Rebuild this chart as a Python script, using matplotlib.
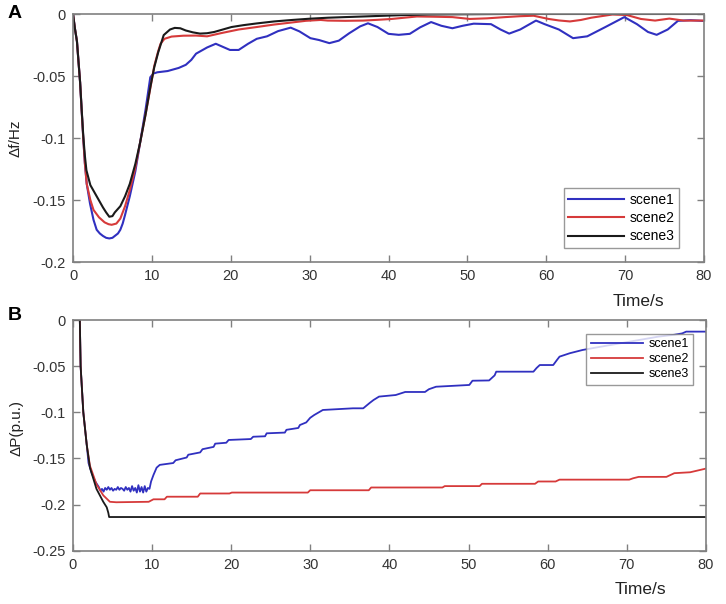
import matplotlib
matplotlib.use("Agg")
import matplotlib.pyplot as plt

plt.rcParams['font.family'] = ['Liberation Sans', 'DejaVu Sans']

# ---------------- Panel A : frequency deviation ----------------
tA1 = [0, 0.25, 0.5, 0.68, 0.9, 1.1, 1.3, 1.5, 1.74, 2.16, 2.6, 3.0, 3.4, 3.8, 4.2, 4.6, 5.0, 5.3,
       5.7, 6.0, 6.3, 6.6, 7.2, 7.9, 8.5, 9.2, 9.8, 10.2, 10.7, 12.0, 13.4, 14.3, 15.0, 15.6, 17.0,
       18.1, 19.0, 19.9, 21.0, 22.2, 23.3, 24.6, 26.0, 27.6, 28.7, 30.1, 31.2, 32.5, 33.7, 35.0,
       36.4, 37.4, 38.6, 40.0, 41.3, 42.7, 44.0, 45.4, 46.7, 48.1, 49.4, 50.8, 53.0, 54.2, 55.3,
       56.7, 58.7, 59.8, 61.6, 63.4, 65.2, 67.5, 69.9, 71.5, 72.9, 74.0, 75.4, 76.7, 78.3, 80]
fA1 = [0, -0.012, -0.022, -0.037, -0.055, -0.078, -0.1, -0.12, -0.137, -0.153, -0.166, -0.174,
       -0.177, -0.179, -0.1805, -0.181, -0.1805, -0.179, -0.177, -0.174, -0.169, -0.162, -0.147,
       -0.127, -0.104, -0.077, -0.051, -0.048, -0.047, -0.046, -0.0435, -0.041, -0.037, -0.032,
       -0.027, -0.024, -0.0265, -0.029, -0.029, -0.024, -0.020, -0.018, -0.0138, -0.011, -0.014,
       -0.0195, -0.021, -0.0235, -0.0215, -0.0156, -0.010, -0.0075, -0.0105, -0.016, -0.0168,
       -0.016, -0.0108, -0.0065, -0.0095, -0.0115, -0.0095, -0.0078, -0.0082, -0.0125, -0.0158,
       -0.0125, -0.0053, -0.0082, -0.0125, -0.0195, -0.018, -0.0105, -0.0025, -0.0082, -0.0145,
       -0.0168, -0.0125, -0.0055, -0.005, -0.0056]

tA2 = [0, 0.25, 0.5, 0.68, 0.9, 1.1, 1.3, 1.5, 1.74, 2.2, 2.6, 3.3, 4.0, 4.5, 4.9, 5.5, 6.0, 6.6,
       7.2, 7.9, 8.5, 9.2, 9.8, 10.3, 10.8, 11.1, 11.6, 12.5, 14.0, 15.6, 17.0, 18.8, 21.0, 23.3,
       25.5, 27.8, 29.5, 31.4, 32.3, 34.5, 36.8, 38.6, 40.4, 42.0, 43.6, 45.8, 48.1, 50.3, 52.5,
       54.8, 56.6, 58.4, 60.3, 61.6, 63.0, 64.4, 65.7, 68.4, 70.2, 72.0, 73.8, 75.6, 77.4, 80]
fA2 = [0, -0.012, -0.022, -0.037, -0.055, -0.078, -0.1, -0.12, -0.137, -0.150, -0.158, -0.164,
       -0.168, -0.1695, -0.170, -0.169, -0.165, -0.155, -0.142, -0.124, -0.104, -0.081, -0.06,
       -0.042, -0.030, -0.024, -0.020, -0.0182, -0.0175, -0.0174, -0.018, -0.0154, -0.0125,
       -0.0105, -0.0085, -0.0068, -0.0055, -0.0048, -0.0053, -0.0055, -0.0053, -0.0047, -0.004,
       -0.003, -0.002, -0.0022, -0.0025, -0.004, -0.0035, -0.0025, -0.0018, -0.0014, -0.004,
       -0.0052, -0.006, -0.0048, -0.003, -0.0004, -0.0008, -0.004, -0.0053, -0.0037, -0.0053,
       -0.0053]

tA3 = [0, 0.25, 0.5, 0.68, 0.9, 1.1, 1.3, 1.5, 1.7, 2.2, 3.0, 3.8, 4.2, 4.6, 5.0, 5.3, 6.0, 6.6,
       7.2, 7.9, 8.5, 9.2, 9.8, 10.3, 10.8, 11.5, 12.3, 12.9, 13.6, 14.3, 15.2, 16.1, 17.0, 17.9,
       19.0, 20.1, 21.6, 23.3, 25.5, 27.8, 30.0, 32.3, 34.5, 36.8, 41.3, 45.0, 50, 55, 60, 70, 80]
fA3 = [0, -0.012, -0.022, -0.037, -0.055, -0.077, -0.098, -0.114, -0.126, -0.138, -0.147, -0.156,
       -0.16, -0.1635, -0.163, -0.160, -0.155, -0.147, -0.137, -0.121, -0.104, -0.081, -0.059,
       -0.043, -0.031, -0.017, -0.0125, -0.0112, -0.0115, -0.0133, -0.0148, -0.0158, -0.0155,
       -0.0145, -0.0125, -0.0105, -0.009, -0.0076, -0.006, -0.0048, -0.0038, -0.003, -0.0025,
       -0.002, -0.001, -0.0004, -0.0002, 0, 0, 0, 0]

# ---------------- Panel B : power deviation ----------------
tB1 = [0, 0.9, 1.0, 1.34, 1.77, 2.0, 2.4, 2.85, 3.3,
       3.5, 3.7, 3.9, 4.1, 4.3, 4.5, 4.7, 4.9, 5.1, 5.3, 5.5, 5.7, 5.9, 6.1, 6.3, 6.5, 6.7, 6.9,
       7.1, 7.3, 7.5, 7.7, 7.9, 8.1, 8.3, 8.5, 8.7, 8.9, 9.1, 9.3, 9.5, 9.7,
       9.9, 10.2, 10.6, 11, 12.7, 13, 14.4, 14.6, 16.1, 16.4, 17.8, 18, 19.4, 19.7, 22.5, 22.8,
       24.3, 24.5, 26.8, 27, 28.5, 28.7, 29.5, 30, 30.5, 31.6, 35.4, 36.7, 37.5, 38, 38.7, 40.8,
       42, 44.5, 45, 45.9, 50.1, 50.5, 52.6, 53.3, 53.5, 58.2, 58.6, 59, 60.7, 61.2, 61.5, 62.8,
       64.4, 66, 68, 70, 72, 74, 76, 77, 77.5, 80]
pB1 = [0, 0, -0.05, -0.1, -0.135, -0.155, -0.166, -0.175, -0.181,
       -0.185, -0.183, -0.186, -0.182, -0.184, -0.181, -0.184, -0.182, -0.185, -0.183, -0.184,
       -0.181, -0.184, -0.182, -0.183, -0.185, -0.181, -0.184, -0.182, -0.186, -0.180, -0.185,
       -0.182, -0.187, -0.179, -0.186, -0.181, -0.187, -0.180, -0.186, -0.182, -0.183,
       -0.175, -0.168, -0.160, -0.157, -0.155, -0.152, -0.149, -0.146, -0.1435, -0.140, -0.1375,
       -0.134, -0.133, -0.130, -0.129, -0.1265, -0.126, -0.1228, -0.122, -0.119, -0.117, -0.1138,
       -0.111, -0.106, -0.103, -0.0975, -0.0957, -0.0957, -0.090, -0.0867, -0.083, -0.0813,
       -0.078, -0.078, -0.075, -0.0723, -0.0704, -0.0658, -0.0655, -0.060, -0.056, -0.056, -0.052,
       -0.0488, -0.0488, -0.043, -0.0397, -0.036, -0.0325, -0.030, -0.027, -0.024, -0.021, -0.018,
       -0.016, -0.0145, -0.0126, -0.0126]

tB2 = [0, 0.9, 1.0, 1.34, 1.77, 2.18, 3.0, 3.86, 4.7, 5.5, 9.6, 10.2, 11.6, 11.9, 15.8, 16.1,
       19.8, 20.1, 29.7, 30, 37.4, 37.7, 46.7, 47, 51.4, 51.7, 58.4, 58.8, 61, 61.5, 70.3, 70.8,
       71.5, 75, 76, 78, 80]
pB2 = [0, 0, -0.05, -0.1, -0.135, -0.158, -0.178, -0.19, -0.197, -0.1975, -0.197, -0.1943,
       -0.1943, -0.1915, -0.1915, -0.188, -0.188, -0.187, -0.187, -0.1845, -0.1845, -0.1815,
       -0.1815, -0.180, -0.180, -0.1775, -0.1775, -0.175, -0.175, -0.173, -0.173, -0.1715, -0.170,
       -0.170, -0.166, -0.165, -0.161]

tB3 = [0, 0.9, 1.0, 1.34, 1.77, 2.18, 3.0, 3.86, 4.3, 4.5, 4.6, 80]
pB3 = [0, 0, -0.05, -0.1, -0.135, -0.16, -0.183, -0.197, -0.203, -0.209, -0.2135, -0.2135]

labels = ['scene1', 'scene2', 'scene3']
colors = ['#3030c0', '#d63a3a', '#1a1a1a']
xticks = [0, 10, 20, 30, 40, 50, 60, 70, 80]
yticksA = [0, -0.05, -0.1, -0.15, -0.2]
yticksB = [0, -0.05, -0.1, -0.15, -0.2, -0.25]

W, H = 726, 604
fig = plt.figure(figsize=(W / 100, H / 100), dpi=100)

axA = fig.add_axes([73 / W, 1 - 262 / H, (704 - 73) / W, (262 - 14) / H])
axB = fig.add_axes([72.7 / W, 1 - 550.7 / H, (706 - 72.7) / W, (550.7 - 320) / H])

spine_col = '#808080'
tick_col = '#333333'

def style(ax, yticks):
    ax.set_xlim(0, 80)
    ax.set_xticks(xticks)
    ax.set_yticks(yticks)
    ax.set_yticklabels([('%g' % v) for v in yticks])
    ax.tick_params(direction='in', length=5, width=1, color=spine_col, labelcolor=tick_col,
                   labelsize=10.5, top=True, right=True, pad=5)
    for s in ax.spines.values():
        s.set_color(spine_col)
        s.set_linewidth(1.2)

for t, v, lab, c in zip([tA1, tA2, tA3], [fA1, fA2, fA3], labels, colors):
    axA.plot(t, v, color=c, lw=1.5, label=lab, solid_joinstyle='round')
axA.set_ylim(-0.2, 0)
style(axA, yticksA)
legA = axA.legend(loc='lower right', bbox_to_anchor=(0.961, 0.055), fontsize=10,
                  handlelength=4.0, frameon=True, fancybox=False, edgecolor=spine_col,
                  borderpad=0.35, labelspacing=0.3, handletextpad=0.4, borderaxespad=0)
legA.get_frame().set_linewidth(1.0)

for t, v, lab, c in zip([tB1, tB2, tB3], [pB1, pB2, pB3], labels, colors):
    axB.plot(t, v, color=c, lw=1.3, label=lab)
axB.set_ylim(-0.25, 0)
style(axB, yticksB)
legB = axB.legend(loc='upper right', bbox_to_anchor=(0.9795, 0.94), fontsize=9,
                  handlelength=4.2, frameon=True, fancybox=False, edgecolor=spine_col,
                  borderpad=0.35, labelspacing=0.25, handletextpad=0.4, borderaxespad=0)
legB.get_frame().set_linewidth(1.0)

fig.text(15 / W, 1 - 138 / H, 'Δf/Hz', rotation=90, ha='center', va='center',
         fontsize=11, color='#222222')
fig.text(16 / W, 1 - 428 / H, 'ΔP(p.u.)', rotation=90, ha='center', va='center',
         fontsize=11, color='#222222')
fig.text(638 / W, 1 - 302 / H, 'Time/s', ha='center', va='center', fontsize=12.5, color='#222222')
fig.text(640 / W, 1 - 590 / H, 'Time/s', ha='center', va='center', fontsize=12.5, color='#222222')
fig.text(15 / W, 1 - 14 / H, 'A', ha='center', va='center', fontsize=14, fontweight='bold')
fig.text(15 / W, 1 - 316 / H, 'B', ha='center', va='center', fontsize=14, fontweight='bold')

fig.savefig('out.png', dpi=100)
